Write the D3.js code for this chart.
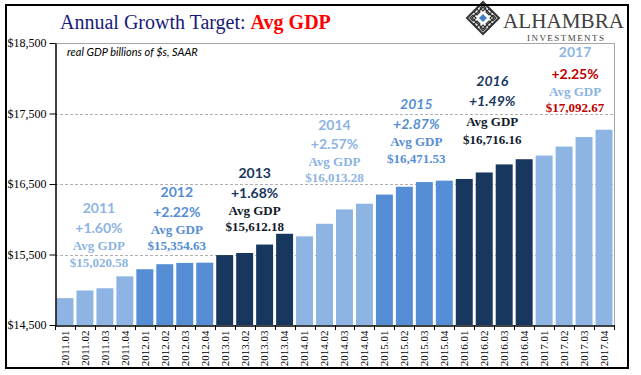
<!DOCTYPE html>
<html>
<head>
<meta charset="utf-8">
<script src="https://cdn.jsdelivr.net/npm/d3@7"></script>
<style>
  html, body { margin: 0; padding: 0; background: #fff; }
  svg { display: block; }
</style>
</head>
<body>
<div id="chart"></div>
<script>
// ---------- DATA ----------
const quarters = ["2011.01","2011.02","2011.03","2011.04",
                  "2012.01","2012.02","2012.03","2012.04",
                  "2013.01","2013.02","2013.03","2013.04",
                  "2014.01","2014.02","2014.03","2014.04",
                  "2015.01","2015.02","2015.03","2015.04",
                  "2016.01","2016.02","2016.03","2016.04",
                  "2017.01","2017.02","2017.03","2017.04"];
const gdp = [14881.3, 14989.6, 15021.1, 15190.3,
             15291.0, 15362.4, 15380.8, 15384.3,
             15491.9, 15521.6, 15641.3, 15793.9,
             15757.6, 15935.8, 16139.5, 16220.2,
             16350.0, 16460.9, 16527.6, 16547.6,
             16571.6, 16663.5, 16778.1, 16851.4,
             16903.2, 17031.1, 17166.9, 17269.5];
const years = ["2011","2012","2013","2014","2015","2016","2017"];
const growth = ["+1.60%","+2.22%","+1.68%","+2.57%","+2.87%","+1.49%","+2.25%"];
const avgGdp = [15020.58, 15354.63, 15612.18, 16013.28, 16471.53, 16716.16, 17092.67];
const yTicks = [14500, 15500, 16500, 17500, 18500];

// ---------- STYLE / LAYOUT ----------
const W = 641, H = 375;
const plot = {left: 55, right: 614, top: 43, bottom: 325};
const light = "#8DB4E2", medium = "#558ED5", dark = "#17375E", red = "#C00000";
const yearColor = [light, medium, dark, light, medium, dark, light];
// annotation text styling per year: [year, pct, avgLabel, value]
const annoColors = [
  [light, light, light, light],
  [medium, medium, medium, medium],
  [dark, dark, "#111a2a", "#111a2a"],
  [light, light, light, light],
  [medium, medium, medium, medium],
  [dark, dark, "#111a2a", "#111a2a"],
  [light, red, light, red]
];
const annoItalic = [false, false, false, false, true, true, false];
// baselines of the 4 annotation lines, and x offset from year centre
const annoBaselines = [
  [213, 233, 250, 267],
  [197, 217, 234, 250],
  [178, 198, 215, 231],
  [130, 149, 166, 182],
  [109, 129, 146, 163],
  [ 86, 106, 126, 144],
  [ 57,  79,  96, 112]
];
const annoDx = [4, 2, 0, 0, 2, -2, 1];

const svg = d3.select("#chart").append("svg")
  .attr("width", W).attr("height", H);

svg.append("rect").attr("width", W).attr("height", H).attr("fill", "#fff");

const x = d3.scaleBand().domain(quarters)
  .range([plot.left, plot.right]).paddingInner(0.15).paddingOuter(0.075);
const y = d3.scaleLinear().domain([14500, 18500]).range([plot.bottom, plot.top]);

// gridlines
svg.append("g").selectAll("line")
  .data(yTicks.filter(v => v > 14500 && v < 18500))
  .join("line")
  .attr("x1", plot.left).attr("x2", plot.right)
  .attr("y1", d => Math.round(y(d)) + 0.5).attr("y2", d => Math.round(y(d)) + 0.5)
  .attr("stroke", "#b0b0b0").attr("stroke-width", 1).attr("stroke-dasharray", "3,2");

// plot area top & right border (gray)
svg.append("line")
  .attr("x1", plot.left).attr("x2", plot.right)
  .attr("y1", Math.round(y(18500)) + 0.5).attr("y2", Math.round(y(18500)) + 0.5)
  .attr("stroke", "#a6a6a6");
svg.append("line")
  .attr("x1", plot.right + 0.5).attr("x2", plot.right + 0.5)
  .attr("y1", y(18500)).attr("y2", y(14500))
  .attr("stroke", "#a6a6a6");

// bars
svg.append("g").selectAll("rect")
  .data(quarters.map((q, i) => ({q, v: gdp[i], g: Math.floor(i / 4)})))
  .join("rect")
  .attr("x", d => x(d.q))
  .attr("width", x.bandwidth())
  .attr("y", d => y(d.v))
  .attr("height", d => y(14500) - y(d.v))
  .attr("fill", d => yearColor[d.g]);

// y axis
const yAxis = svg.append("g")
  .attr("transform", `translate(${plot.left + 0.5},0)`)
  .call(d3.axisLeft(y).tickValues(yTicks).tickFormat(d3.format("$,")).tickSize(6).tickSizeOuter(0).tickPadding(3));
yAxis.select(".domain").attr("stroke", "#000").attr("stroke-width", 1.5);
yAxis.selectAll(".tick line").attr("stroke", "#000");
yAxis.selectAll("text").attr("font-family", "'Liberation Serif', 'Times New Roman', serif")
  .attr("font-size", 12).attr("fill", "#000");

// x axis
const xAxis = svg.append("g")
  .attr("transform", `translate(0,${plot.bottom + 0.5})`)
  .call(d3.axisBottom(x).tickSize(0).tickSizeOuter(0));
xAxis.select(".domain").attr("stroke", "#000").attr("stroke-width", 1.5);
xAxis.selectAll("text")
  .attr("transform", "rotate(-90)")
  .attr("x", -5).attr("y", 0).attr("dy", "0.35em")
  .attr("text-anchor", "end")
  .attr("font-family", "'Liberation Serif', 'Times New Roman', serif")
  .attr("font-size", 11).attr("fill", "#000");
// category boundary ticks
const bounds = quarters.map(q => x(q) - x.step() * x.paddingInner() / 2)
  .concat([x(quarters[quarters.length - 1]) + x.bandwidth() + x.step() * x.paddingInner() / 2]);
svg.append("g").selectAll("line").data(bounds).join("line")
  .attr("x1", d => Math.round(d) + 0.5).attr("x2", d => Math.round(d) + 0.5)
  .attr("y1", plot.bottom).attr("y2", plot.bottom + 5)
  .attr("stroke", "#000");

// annotations
const sans = "Lato, 'Open Sans', sans-serif";
const serif = "'Liberation Serif', 'Times New Roman', serif";
const fmtVal = d3.format("$,.2f");
years.forEach((yr, i) => {
  const cx = (x(quarters[i * 4 + 1]) + x(quarters[i * 4 + 2]) + x.bandwidth()) / 2 + annoDx[i];
  const lines = [
    {t: yr, f: sans, s: 14, it: annoItalic[i]},
    {t: growth[i], f: sans, s: 14, it: annoItalic[i]},
    {t: "Avg GDP", f: serif, s: 13, it: false},
    {t: fmtVal(avgGdp[i]), f: serif, s: 13, it: false}
  ];
  lines.forEach((l, k) => {
    svg.append("text")
      .attr("x", cx).attr("y", annoBaselines[i][k])
      .attr("text-anchor", "middle")
      .attr("font-family", l.f).attr("font-size", l.s)
      .attr("font-weight", "bold")
      .attr("font-style", l.it ? "italic" : "normal")
      .attr("fill", annoColors[i][k])
      .text(l.t);
  });
});

// title
const title = svg.append("text").attr("x", 60).attr("y", 29)
  .attr("font-family", serif).attr("font-size", 20);
title.append("tspan").attr("fill", "#1a1a7a").text("Annual Growth Target: ");
title.append("tspan").attr("fill", "#ff0000").attr("font-weight", "bold").text("Avg GDP");

// subtitle
svg.append("text").attr("x", 67).attr("y", 56)
  .attr("font-family", "Lato, 'Open Sans', sans-serif").attr("font-style", "italic")
  .attr("font-size", 11).attr("fill", "#000")
  .text("real GDP billions of $s, SAAR");

// logo
const logo = svg.append("g");
logo.append("rect").attr("x", 463).attr("y", 6).attr("width", 158).attr("height", 37).attr("fill", "#fff");
const lc = {x: 483, y: 18, r: 16};
const dpath = (cx, cy, r) => `M${cx},${cy - r}L${cx + r},${cy}L${cx},${cy + r}L${cx - r},${cy}Z`;
logo.append("path").attr("d", dpath(lc.x, lc.y, lc.r)).attr("fill", "none").attr("stroke", "#333").attr("stroke-width", 2);
logo.append("path").attr("d", dpath(lc.x, lc.y, lc.r - 5)).attr("fill", "none").attr("stroke", "#333").attr("stroke-width", 1.5);
[[-6, -6], [6, -6], [-6, 6], [6, 6], [0, -10], [0, 10], [-10, 0], [10, 0]].forEach(([dx, dy]) => {
  logo.append("path").attr("d", dpath(lc.x + dx, lc.y + dy, 3)).attr("fill", "none").attr("stroke", "#333").attr("stroke-width", 1.2);
});
logo.append("path").attr("d", dpath(lc.x, lc.y, 4)).attr("fill", "#3f7fc7");
logo.append("text").attr("x", 503).attr("y", 28)
  .attr("font-family", serif).attr("font-size", 20).attr("fill", "#404040")
  .attr("textLength", 121).attr("lengthAdjust", "spacingAndGlyphs")
  .text("ALHAMBRA");
logo.append("text").attr("x", 527).attr("y", 41)
  .attr("font-family", serif).attr("font-size", 9).attr("fill", "#404040")
  .attr("textLength", 77).attr("lengthAdjust", "spacing")
  .text("INVESTMENTS");

// outer border
svg.append("rect").attr("x", 6).attr("y", 5).attr("width", 622).attr("height", 363)
  .attr("fill", "none").attr("stroke", "#000").attr("stroke-width", 2);
</script>
</body>
</html>
